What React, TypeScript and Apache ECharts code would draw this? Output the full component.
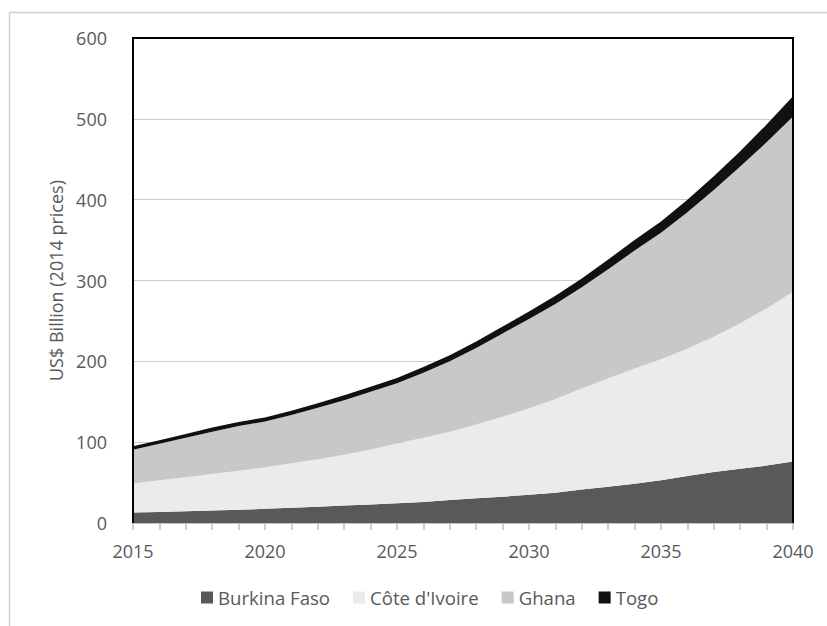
import React, { useEffect, useRef } from "react";
import * as echarts from "echarts";

const years = [
  "2015", "2016", "2017", "2018", "2019", "2020", "2021", "2022", "2023", "2024",
  "2025", "2026", "2027", "2028", "2029", "2030", "2031", "2032", "2033", "2034",
  "2035", "2036", "2037", "2038", "2039", "2040",
];

const burkinaFaso = [13, 13.5, 14.5, 15.5, 16.5, 17.5, 19, 20, 21.5, 23, 24.5, 26, 28.5, 30.5, 32.5, 35, 37.5, 41.5, 45, 48.5, 53, 58, 63, 67, 71, 76];
const coteDIvoire = [36, 39.5, 42, 45, 48, 51.5, 55, 59, 63, 68, 74, 79.5, 84.5, 91.5, 99, 107, 116, 125, 134, 142.5, 149.5, 158, 167.5, 180, 194.5, 210];
const ghana = [41.5, 45, 49, 52.5, 55.5, 56.5, 59.5, 63.5, 67.5, 71.5, 74.5, 80.5, 87, 94.5, 103, 110.5, 117.5, 125, 135, 146, 156.5, 168.5, 181.5, 194, 205.5, 217];
const togo = [4.5, 4.5, 4.5, 5, 5, 5, 5.5, 5.5, 6, 6, 6.5, 7, 7.5, 8, 8.5, 9, 10, 11, 12, 13, 14, 15.5, 17, 19, 22, 25];

const seriesNames = ["Burkina Faso", "Côte d'Ivoire", "Ghana", "Togo"];
const seriesColors = ["#595959", "#ebebeb", "#c8c8c8", "#111111"];
const seriesData = [burkinaFaso, coteDIvoire, ghana, togo];

const FONT = "'Open Sans', 'Noto Sans', sans-serif";
const TEXT_COLOR = "#595959";

export default function App() {
  const ref = useRef<HTMLDivElement>(null);

  useEffect(() => {
    if (!ref.current) return;
    const chart = echarts.init(ref.current, undefined, { renderer: "svg" });
    const L = 133, T = 38, R = 793, B = 523;
    chart.setOption({
      animation: false,
      backgroundColor: "#ffffff",
      textStyle: { fontFamily: FONT },
      grid: { left: L, top: T, right: 827 - R, bottom: 626 - B, containLabel: false },
      legend: {
        data: seriesNames,
        bottom: 14,
        left: 196,
        icon: "rect",
        itemWidth: 12,
        itemHeight: 12,
        itemGap: 23,
        textStyle: { fontSize: 18.6, color: TEXT_COLOR, fontFamily: FONT },
      },
      xAxis: {
        type: "category",
        data: years,
        boundaryGap: false,
        axisLine: { lineStyle: { color: "#bfbfbf", width: 1.5 } },
        axisTick: { show: true, interval: 0, length: 7, lineStyle: { color: "#bfbfbf", width: 1.5 } },
        axisLabel: { interval: 4, margin: 19, fontSize: 18, color: TEXT_COLOR, fontFamily: FONT },
        splitLine: { show: false },
      },
      yAxis: {
        type: "value",
        min: 0,
        max: 600,
        interval: 100,
        name: "US$ Billion (2014 prices)",
        nameLocation: "middle",
        nameGap: 68,
        nameTextStyle: { fontSize: 18, color: TEXT_COLOR, fontFamily: FONT },
        axisLine: { show: false },
        axisTick: { show: false },
        axisLabel: { margin: 26, fontSize: 18, color: TEXT_COLOR, fontFamily: FONT },
        splitLine: { lineStyle: { color: "#cccccc", width: 1.2 } },
      },
      series: seriesNames.map((name, i) => ({
        name,
        type: "line",
        stack: "total",
        data: seriesData[i],
        symbol: "none",
        lineStyle: { width: 0, color: seriesColors[i] },
        itemStyle: { color: seriesColors[i] },
        areaStyle: { color: seriesColors[i], opacity: 1 },
        emphasis: { disabled: true },
      })),
      graphic: [
        {
          type: "rect",
          z: 0,
          silent: true,
          shape: { x: 9.5, y: 12.5, width: 840, height: 640 },
          style: { fill: "none", stroke: "#d0d0d0", lineWidth: 1.5 },
        },
        {
          type: "polyline",
          z: 100,
          silent: true,
          shape: { points: [[L, B], [L, T], [R, T], [R, B]] },
          style: { fill: "none", stroke: "#000000", lineWidth: 2 },
        },
      ],
    });
    return () => chart.dispose();
  }, []);

  return (
    <div
      ref={ref}
      style={{ position: "fixed", left: 0, top: 0, width: 827, height: 626, background: "#fff" }}
    />
  );
}
